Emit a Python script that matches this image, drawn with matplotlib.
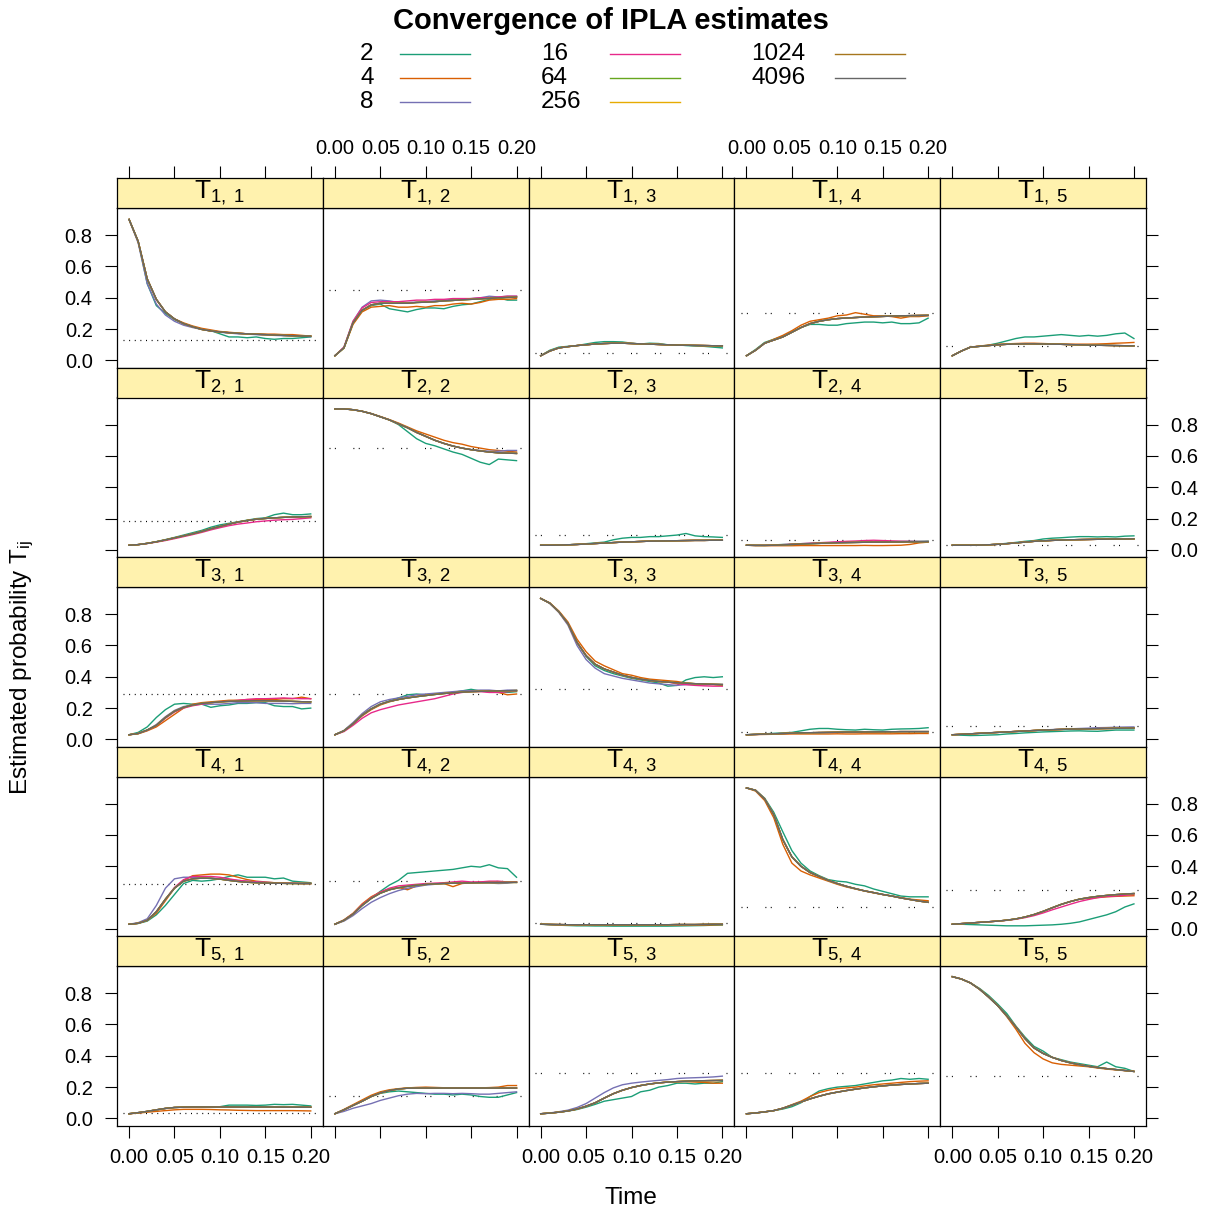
import matplotlib
matplotlib.use("Agg")
import matplotlib.pyplot as plt
from matplotlib.lines import Line2D
from matplotlib.ticker import FormatStrFormatter

plt.rcParams['font.family'] = ['Liberation Sans', 'DejaVu Sans']
plt.rcParams['mathtext.fontset'] = 'custom'
plt.rcParams['mathtext.rm'] = 'Liberation Sans'
plt.rcParams['mathtext.it'] = 'Liberation Sans:italic'

# time grid the curves were read at
times = [0.00, 0.01, 0.02, 0.03, 0.04, 0.05, 0.06, 0.07, 0.08, 0.09, 0.10,
         0.11, 0.12, 0.13, 0.14, 0.15, 0.16, 0.17, 0.18, 0.19, 0.20]

sizes = ['2', '4', '8', '16', '64', '256', '1024', '4096']
colors = ['#1B9E77', '#D95F02', '#7570B3', '#E7298A', '#66A61E', '#E6AB02', '#A6761D', '#666666']

# dotted reference value per panel
target_rows = [
    [0.13, 0.45, 0.05, 0.30, 0.09],
    [0.185, 0.648, 0.094, 0.066, 0.03],
    [0.292, 0.288, 0.324, 0.05, 0.083],
    [0.29, 0.303, 0.036, 0.137, 0.25],
    [0.035, 0.143, 0.292, 0.29, 0.269],
]

# converged curve (large sample sizes), one list per panel
main_row1 = [
    [0.90, 0.76, 0.52, 0.39, 0.31, 0.265, 0.235, 0.215, 0.198, 0.188, 0.182, 0.177, 0.173, 0.17, 0.167, 0.165, 0.162, 0.16, 0.158, 0.156, 0.155],
    [0.03, 0.08, 0.24, 0.32, 0.355, 0.365, 0.365, 0.365, 0.365, 0.37, 0.372, 0.375, 0.38, 0.383, 0.387, 0.39, 0.393, 0.396, 0.40, 0.402, 0.405],
    [0.03, 0.06, 0.08, 0.088, 0.095, 0.10, 0.105, 0.108, 0.11, 0.11, 0.108, 0.106, 0.104, 0.102, 0.10, 0.098, 0.097, 0.096, 0.095, 0.094, 0.093],
    [0.03, 0.065, 0.11, 0.13, 0.15, 0.18, 0.21, 0.235, 0.25, 0.26, 0.267, 0.271, 0.274, 0.277, 0.279, 0.281, 0.283, 0.285, 0.286, 0.287, 0.288],
    [0.03, 0.06, 0.085, 0.09, 0.095, 0.10, 0.103, 0.105, 0.106, 0.106, 0.105, 0.104, 0.103, 0.101, 0.10, 0.098, 0.097, 0.096, 0.095, 0.094, 0.093],
]
main_row2 = [
    [0.03, 0.034, 0.042, 0.052, 0.064, 0.077, 0.09, 0.103, 0.118, 0.135, 0.15, 0.165, 0.178, 0.188, 0.196, 0.201, 0.205, 0.208, 0.21, 0.212, 0.213],
    [0.90, 0.90, 0.895, 0.885, 0.87, 0.85, 0.83, 0.805, 0.78, 0.75, 0.725, 0.70, 0.68, 0.663, 0.65, 0.64, 0.632, 0.625, 0.62, 0.618, 0.616],
    [0.03, 0.03, 0.031, 0.033, 0.035, 0.038, 0.041, 0.044, 0.047, 0.05, 0.052, 0.054, 0.056, 0.057, 0.058, 0.059, 0.06, 0.061, 0.061, 0.062, 0.062],
    [0.03, 0.029, 0.029, 0.03, 0.032, 0.035, 0.038, 0.04, 0.042, 0.044, 0.046, 0.047, 0.048, 0.049, 0.05, 0.05, 0.051, 0.051, 0.052, 0.052, 0.053],
    [0.03, 0.03, 0.03, 0.031, 0.033, 0.036, 0.04, 0.045, 0.05, 0.055, 0.058, 0.061, 0.063, 0.065, 0.066, 0.067, 0.068, 0.069, 0.07, 0.07, 0.071],
]
main_row3 = [
    [0.03, 0.038, 0.06, 0.09, 0.14, 0.18, 0.205, 0.22, 0.23, 0.235, 0.24, 0.243, 0.245, 0.246, 0.247, 0.247, 0.246, 0.245, 0.243, 0.241, 0.24],
    [0.03, 0.055, 0.10, 0.155, 0.195, 0.225, 0.243, 0.255, 0.265, 0.273, 0.28, 0.287, 0.293, 0.298, 0.302, 0.305, 0.307, 0.309, 0.31, 0.311, 0.312],
    [0.90, 0.87, 0.815, 0.74, 0.62, 0.535, 0.48, 0.45, 0.43, 0.41, 0.396, 0.385, 0.377, 0.37, 0.366, 0.362, 0.359, 0.356, 0.354, 0.352, 0.35],
    [0.03, 0.032, 0.034, 0.036, 0.038, 0.04, 0.042, 0.043, 0.044, 0.045, 0.046, 0.047, 0.047, 0.048, 0.048, 0.049, 0.049, 0.05, 0.05, 0.05, 0.05],
    [0.03, 0.033, 0.036, 0.039, 0.042, 0.045, 0.048, 0.051, 0.054, 0.057, 0.06, 0.062, 0.064, 0.066, 0.067, 0.068, 0.069, 0.07, 0.071, 0.072, 0.073],
]
main_row4 = [
    [0.03, 0.036, 0.055, 0.11, 0.19, 0.26, 0.305, 0.32, 0.324, 0.323, 0.318, 0.31, 0.303, 0.298, 0.295, 0.293, 0.292, 0.291, 0.29, 0.29, 0.29],
    [0.03, 0.055, 0.095, 0.15, 0.195, 0.228, 0.25, 0.263, 0.272, 0.279, 0.284, 0.288, 0.29, 0.292, 0.293, 0.294, 0.295, 0.296, 0.296, 0.297, 0.297],
    [0.03, 0.029, 0.028, 0.027, 0.027, 0.027, 0.027, 0.027, 0.027, 0.027, 0.027, 0.027, 0.027, 0.027, 0.027, 0.028, 0.028, 0.028, 0.029, 0.03, 0.03],
    [0.90, 0.885, 0.83, 0.73, 0.57, 0.46, 0.40, 0.36, 0.335, 0.31, 0.29, 0.272, 0.257, 0.243, 0.232, 0.22, 0.21, 0.198, 0.188, 0.178, 0.17],
    [0.03, 0.034, 0.038, 0.042, 0.046, 0.05, 0.056, 0.064, 0.076, 0.092, 0.112, 0.135, 0.157, 0.175, 0.19, 0.2, 0.208, 0.214, 0.219, 0.223, 0.226],
]
main_row5 = [
    [0.03, 0.037, 0.045, 0.055, 0.064, 0.07, 0.072, 0.073, 0.073, 0.073, 0.073, 0.073, 0.073, 0.073, 0.073, 0.073, 0.073, 0.072, 0.072, 0.072, 0.072],
    [0.03, 0.055, 0.083, 0.11, 0.14, 0.163, 0.178, 0.188, 0.193, 0.194, 0.194, 0.194, 0.194, 0.194, 0.194, 0.194, 0.194, 0.194, 0.194, 0.194, 0.194],
    [0.03, 0.034, 0.04, 0.048, 0.06, 0.078, 0.1, 0.13, 0.158, 0.18, 0.197, 0.21, 0.22, 0.227, 0.232, 0.235, 0.238, 0.24, 0.241, 0.242, 0.243],
    [0.03, 0.035, 0.042, 0.05, 0.065, 0.085, 0.105, 0.125, 0.142, 0.157, 0.168, 0.178, 0.187, 0.195, 0.202, 0.208, 0.213, 0.217, 0.22, 0.223, 0.225],
    [0.905, 0.89, 0.865, 0.825, 0.775, 0.72, 0.655, 0.585, 0.51, 0.45, 0.415, 0.39, 0.37, 0.355, 0.343, 0.333, 0.325, 0.318, 0.312, 0.306, 0.30],
]

# sample size 2 (noisiest estimate)
n2_row1 = [
    [0.90, 0.76, 0.49, 0.35, 0.30, 0.26, 0.235, 0.215, 0.20, 0.19, 0.17, 0.15, 0.15, 0.145, 0.15, 0.14, 0.135, 0.14, 0.14, 0.145, 0.15],
    [0.03, 0.08, 0.24, 0.32, 0.35, 0.36, 0.33, 0.32, 0.31, 0.325, 0.335, 0.335, 0.33, 0.345, 0.355, 0.36, 0.375, 0.39, 0.40, 0.385, 0.385],
    [0.03, 0.065, 0.085, 0.09, 0.095, 0.105, 0.115, 0.12, 0.12, 0.118, 0.11, 0.105, 0.11, 0.108, 0.1, 0.1, 0.095, 0.092, 0.09, 0.085, 0.08],
    [0.03, 0.07, 0.115, 0.135, 0.155, 0.18, 0.21, 0.23, 0.23, 0.225, 0.225, 0.235, 0.24, 0.245, 0.245, 0.24, 0.245, 0.235, 0.235, 0.24, 0.27],
    [0.03, 0.06, 0.085, 0.09, 0.098, 0.11, 0.125, 0.14, 0.15, 0.15, 0.155, 0.16, 0.165, 0.16, 0.155, 0.16, 0.155, 0.16, 0.17, 0.175, 0.14],
]
n2_row2 = [
    [0.03, 0.034, 0.042, 0.053, 0.066, 0.08, 0.095, 0.11, 0.125, 0.145, 0.16, 0.17, 0.18, 0.19, 0.2, 0.205, 0.225, 0.235, 0.225, 0.225, 0.23],
    [0.90, 0.90, 0.895, 0.885, 0.87, 0.85, 0.83, 0.80, 0.755, 0.71, 0.68, 0.665, 0.645, 0.625, 0.61, 0.585, 0.56, 0.545, 0.58, 0.575, 0.57],
    [0.03, 0.03, 0.031, 0.033, 0.036, 0.04, 0.045, 0.05, 0.065, 0.075, 0.08, 0.08, 0.085, 0.085, 0.09, 0.095, 0.105, 0.09, 0.085, 0.083, 0.08],
    [0.03, 0.03, 0.03, 0.032, 0.035, 0.037, 0.04, 0.042, 0.044, 0.046, 0.048, 0.05, 0.05, 0.052, 0.053, 0.052, 0.053, 0.054, 0.055, 0.055, 0.056],
    [0.03, 0.03, 0.03, 0.031, 0.033, 0.037, 0.042, 0.048, 0.055, 0.06, 0.07, 0.075, 0.078, 0.082, 0.085, 0.085, 0.083, 0.085, 0.083, 0.088, 0.09],
]
n2_row3 = [
    [0.03, 0.045, 0.08, 0.14, 0.19, 0.225, 0.23, 0.225, 0.225, 0.205, 0.215, 0.22, 0.23, 0.23, 0.235, 0.235, 0.215, 0.21, 0.21, 0.195, 0.2],
    [0.03, 0.055, 0.10, 0.155, 0.195, 0.225, 0.245, 0.265, 0.285, 0.29, 0.285, 0.29, 0.295, 0.3, 0.31, 0.32, 0.31, 0.305, 0.305, 0.3, 0.305],
    [0.90, 0.87, 0.815, 0.74, 0.62, 0.53, 0.47, 0.44, 0.42, 0.405, 0.39, 0.38, 0.37, 0.36, 0.34, 0.345, 0.38, 0.395, 0.40, 0.395, 0.40],
    [0.03, 0.033, 0.036, 0.039, 0.042, 0.045, 0.055, 0.065, 0.07, 0.07, 0.065, 0.062, 0.06, 0.065, 0.062, 0.06, 0.065, 0.067, 0.068, 0.07, 0.075],
    [0.03, 0.027, 0.025, 0.026, 0.028, 0.03, 0.035, 0.038, 0.042, 0.045, 0.048, 0.05, 0.052, 0.054, 0.055, 0.053, 0.052, 0.056, 0.06, 0.06, 0.06],
]
n2_row4 = [
    [0.03, 0.035, 0.05, 0.09, 0.15, 0.22, 0.29, 0.31, 0.305, 0.31, 0.32, 0.335, 0.345, 0.33, 0.33, 0.33, 0.32, 0.325, 0.305, 0.3, 0.295],
    [0.03, 0.055, 0.095, 0.15, 0.195, 0.24, 0.28, 0.31, 0.355, 0.36, 0.365, 0.37, 0.375, 0.38, 0.39, 0.40, 0.395, 0.41, 0.39, 0.385, 0.33],
    [0.03, 0.027, 0.024, 0.022, 0.02, 0.02, 0.019, 0.019, 0.018, 0.018, 0.018, 0.018, 0.018, 0.018, 0.018, 0.019, 0.02, 0.021, 0.022, 0.024, 0.025],
    [0.90, 0.885, 0.835, 0.745, 0.62, 0.50, 0.42, 0.37, 0.34, 0.315, 0.305, 0.30, 0.285, 0.275, 0.255, 0.24, 0.225, 0.21, 0.205, 0.205, 0.205],
    [0.03, 0.03, 0.028, 0.026, 0.024, 0.022, 0.02, 0.02, 0.02, 0.022, 0.024, 0.026, 0.03, 0.036, 0.045, 0.06, 0.075, 0.09, 0.11, 0.14, 0.16],
]
n2_row5 = [
    [0.03, 0.037, 0.045, 0.055, 0.064, 0.07, 0.072, 0.073, 0.073, 0.074, 0.075, 0.085, 0.085, 0.085, 0.083, 0.085, 0.09, 0.088, 0.09, 0.085, 0.08],
    [0.03, 0.055, 0.083, 0.11, 0.14, 0.16, 0.17, 0.175, 0.17, 0.165, 0.16, 0.155, 0.155, 0.15, 0.155, 0.15, 0.14, 0.135, 0.135, 0.15, 0.165],
    [0.03, 0.034, 0.04, 0.047, 0.057, 0.072, 0.09, 0.11, 0.12, 0.13, 0.14, 0.17, 0.18, 0.2, 0.21, 0.225, 0.225, 0.22, 0.225, 0.225, 0.235],
    [0.03, 0.035, 0.042, 0.05, 0.06, 0.075, 0.10, 0.14, 0.175, 0.19, 0.2, 0.205, 0.21, 0.22, 0.23, 0.24, 0.245, 0.255, 0.25, 0.255, 0.25],
    [0.905, 0.89, 0.865, 0.83, 0.785, 0.73, 0.67, 0.59, 0.52, 0.46, 0.43, 0.39, 0.375, 0.36, 0.35, 0.34, 0.33, 0.36, 0.33, 0.32, 0.30],
]

# sample sizes 4, 8 and 16 where they visibly leave the converged curve
n4_curves = {
    (1, 1): [0.90, 0.76, 0.52, 0.39, 0.31, 0.265, 0.24, 0.22, 0.205, 0.195, 0.185, 0.18, 0.175, 0.17, 0.17, 0.168, 0.168, 0.165, 0.165, 0.16, 0.155],
    (1, 2): [0.03, 0.08, 0.23, 0.31, 0.34, 0.345, 0.35, 0.34, 0.34, 0.345, 0.34, 0.35, 0.35, 0.36, 0.365, 0.36, 0.37, 0.385, 0.39, 0.39, 0.395],
    (1, 4): [0.03, 0.065, 0.11, 0.135, 0.16, 0.19, 0.225, 0.25, 0.26, 0.27, 0.285, 0.29, 0.305, 0.295, 0.285, 0.285, 0.28, 0.27, 0.28, 0.28, 0.285],
    (1, 5): [0.03, 0.06, 0.085, 0.092, 0.098, 0.103, 0.106, 0.108, 0.11, 0.11, 0.108, 0.106, 0.105, 0.104, 0.104, 0.104, 0.105, 0.107, 0.11, 0.112, 0.115],
    (2, 2): [0.90, 0.90, 0.895, 0.885, 0.87, 0.852, 0.832, 0.81, 0.785, 0.76, 0.74, 0.72, 0.70, 0.685, 0.675, 0.66, 0.65, 0.64, 0.635, 0.63, 0.625],
    (2, 4): [0.03, 0.028, 0.027, 0.027, 0.027, 0.027, 0.028, 0.028, 0.028, 0.028, 0.028, 0.028, 0.028, 0.029, 0.028, 0.028, 0.029, 0.03, 0.035, 0.045, 0.05],
    (3, 1): [0.03, 0.036, 0.055, 0.08, 0.12, 0.16, 0.2, 0.225, 0.235, 0.24, 0.245, 0.25, 0.25, 0.255, 0.255, 0.255, 0.255, 0.26, 0.26, 0.27, 0.26],
    (3, 2): [0.03, 0.055, 0.10, 0.15, 0.19, 0.22, 0.24, 0.255, 0.265, 0.275, 0.285, 0.29, 0.295, 0.3, 0.305, 0.31, 0.31, 0.305, 0.30, 0.285, 0.29],
    (3, 3): [0.90, 0.872, 0.82, 0.75, 0.64, 0.56, 0.50, 0.47, 0.445, 0.42, 0.41, 0.395, 0.385, 0.38, 0.375, 0.37, 0.36, 0.355, 0.35, 0.35, 0.345],
    (3, 4): [0.03, 0.031, 0.032, 0.033, 0.034, 0.035, 0.035, 0.035, 0.035, 0.035, 0.036, 0.035, 0.035, 0.036, 0.036, 0.036, 0.036, 0.037, 0.037, 0.038, 0.038],
    (4, 1): [0.03, 0.036, 0.055, 0.1, 0.18, 0.26, 0.31, 0.34, 0.345, 0.35, 0.35, 0.345, 0.33, 0.315, 0.305, 0.3, 0.295, 0.293, 0.292, 0.29, 0.29],
    (4, 2): [0.03, 0.058, 0.1, 0.16, 0.205, 0.235, 0.255, 0.265, 0.25, 0.275, 0.285, 0.29, 0.29, 0.27, 0.29, 0.295, 0.3, 0.3, 0.3, 0.298, 0.3],
    (4, 3): [0.03, 0.028, 0.026, 0.025, 0.024, 0.024, 0.024, 0.024, 0.024, 0.024, 0.024, 0.024, 0.024, 0.024, 0.024, 0.024, 0.025, 0.025, 0.025, 0.026, 0.027],
    (4, 4): [0.90, 0.88, 0.82, 0.71, 0.54, 0.42, 0.37, 0.345, 0.325, 0.305, 0.285, 0.268, 0.255, 0.242, 0.23, 0.22, 0.21, 0.2, 0.19, 0.185, 0.18],
    (4, 5): [0.03, 0.034, 0.038, 0.042, 0.046, 0.05, 0.056, 0.064, 0.076, 0.092, 0.112, 0.135, 0.157, 0.175, 0.19, 0.195, 0.2, 0.205, 0.208, 0.21, 0.212],
    (5, 1): [0.03, 0.034, 0.04, 0.045, 0.05, 0.055, 0.058, 0.058, 0.058, 0.057, 0.055, 0.054, 0.052, 0.051, 0.05, 0.05, 0.05, 0.05, 0.05, 0.049, 0.048],
    (5, 2): [0.03, 0.058, 0.088, 0.118, 0.148, 0.17, 0.183, 0.19, 0.195, 0.198, 0.2, 0.198, 0.196, 0.195, 0.195, 0.195, 0.195, 0.197, 0.2, 0.21, 0.21],
    (5, 3): [0.03, 0.034, 0.04, 0.048, 0.06, 0.078, 0.1, 0.13, 0.158, 0.18, 0.197, 0.21, 0.22, 0.227, 0.232, 0.235, 0.235, 0.232, 0.23, 0.225, 0.225],
    (5, 4): [0.03, 0.035, 0.042, 0.05, 0.065, 0.088, 0.11, 0.14, 0.165, 0.18, 0.19, 0.195, 0.2, 0.208, 0.215, 0.22, 0.225, 0.23, 0.235, 0.238, 0.24],
    (5, 5): [0.905, 0.89, 0.865, 0.825, 0.775, 0.72, 0.65, 0.57, 0.48, 0.42, 0.38, 0.355, 0.345, 0.34, 0.335, 0.33, 0.322, 0.315, 0.31, 0.305, 0.30],
}
n8_curves = {
    (1, 1): [0.90, 0.75, 0.49, 0.36, 0.29, 0.25, 0.225, 0.21, 0.198, 0.19, 0.18, 0.175, 0.17, 0.168, 0.165, 0.162, 0.16, 0.158, 0.156, 0.155, 0.152],
    (1, 2): [0.03, 0.085, 0.25, 0.34, 0.38, 0.385, 0.38, 0.37, 0.37, 0.372, 0.375, 0.38, 0.385, 0.39, 0.39, 0.395, 0.4, 0.41, 0.405, 0.41, 0.41],
    (2, 2): [0.90, 0.90, 0.895, 0.885, 0.87, 0.85, 0.83, 0.805, 0.78, 0.75, 0.725, 0.70, 0.68, 0.663, 0.65, 0.64, 0.635, 0.63, 0.63, 0.635, 0.635],
    (3, 1): [0.03, 0.038, 0.06, 0.095, 0.145, 0.185, 0.21, 0.22, 0.225, 0.225, 0.225, 0.23, 0.235, 0.235, 0.235, 0.23, 0.23, 0.23, 0.228, 0.23, 0.23],
    (3, 2): [0.03, 0.058, 0.108, 0.165, 0.21, 0.24, 0.255, 0.265, 0.275, 0.285, 0.29, 0.295, 0.3, 0.305, 0.31, 0.31, 0.315, 0.315, 0.31, 0.315, 0.315],
    (3, 3): [0.90, 0.868, 0.81, 0.73, 0.6, 0.51, 0.455, 0.42, 0.405, 0.39, 0.38, 0.37, 0.36, 0.355, 0.35, 0.345, 0.35, 0.35, 0.35, 0.352, 0.352],
    (3, 5): [0.03, 0.033, 0.036, 0.039, 0.042, 0.045, 0.048, 0.051, 0.054, 0.057, 0.06, 0.063, 0.066, 0.068, 0.07, 0.072, 0.075, 0.076, 0.078, 0.079, 0.08],
    (4, 1): [0.03, 0.04, 0.065, 0.15, 0.26, 0.32, 0.33, 0.33, 0.328, 0.325, 0.32, 0.315, 0.31, 0.305, 0.3, 0.297, 0.295, 0.293, 0.292, 0.29, 0.29],
    (4, 2): [0.03, 0.05, 0.085, 0.13, 0.17, 0.2, 0.225, 0.245, 0.26, 0.27, 0.28, 0.285, 0.29, 0.295, 0.295, 0.295, 0.295, 0.293, 0.29, 0.292, 0.3],
    (5, 2): [0.03, 0.045, 0.065, 0.08, 0.095, 0.115, 0.13, 0.145, 0.155, 0.16, 0.158, 0.16, 0.16, 0.158, 0.16, 0.158, 0.155, 0.155, 0.16, 0.165, 0.17],
    (5, 3): [0.03, 0.035, 0.043, 0.053, 0.07, 0.095, 0.13, 0.165, 0.195, 0.215, 0.225, 0.232, 0.238, 0.243, 0.248, 0.255, 0.258, 0.26, 0.262, 0.265, 0.27],
}
n16_curves = {
    (1, 2): [0.03, 0.085, 0.25, 0.335, 0.37, 0.375, 0.375, 0.375, 0.38, 0.385, 0.385, 0.39, 0.39, 0.395, 0.395, 0.395, 0.4, 0.4, 0.405, 0.41, 0.41],
    (2, 1): [0.03, 0.034, 0.041, 0.05, 0.06, 0.072, 0.085, 0.098, 0.112, 0.128, 0.142, 0.155, 0.165, 0.172, 0.18, 0.185, 0.19, 0.193, 0.195, 0.2, 0.205],
    (2, 4): [0.03, 0.029, 0.03, 0.031, 0.034, 0.037, 0.04, 0.043, 0.046, 0.049, 0.052, 0.055, 0.057, 0.06, 0.062, 0.06, 0.058, 0.056, 0.055, 0.054, 0.054],
    (3, 1): [0.03, 0.038, 0.058, 0.088, 0.135, 0.175, 0.2, 0.215, 0.225, 0.235, 0.24, 0.245, 0.25, 0.255, 0.26, 0.26, 0.262, 0.265, 0.262, 0.26, 0.26],
    (3, 2): [0.03, 0.05, 0.09, 0.135, 0.17, 0.19, 0.205, 0.22, 0.23, 0.24, 0.25, 0.26, 0.275, 0.29, 0.3, 0.305, 0.305, 0.3, 0.3, 0.305, 0.31],
    (3, 3): [0.90, 0.87, 0.815, 0.74, 0.62, 0.535, 0.48, 0.45, 0.43, 0.41, 0.396, 0.385, 0.377, 0.37, 0.366, 0.355, 0.35, 0.345, 0.342, 0.34, 0.34],
    (4, 1): [0.03, 0.036, 0.055, 0.11, 0.19, 0.265, 0.315, 0.335, 0.335, 0.335, 0.33, 0.32, 0.31, 0.305, 0.3, 0.297, 0.295, 0.293, 0.292, 0.29, 0.29],
    (4, 2): [0.03, 0.056, 0.098, 0.155, 0.2, 0.235, 0.26, 0.275, 0.28, 0.285, 0.29, 0.292, 0.295, 0.3, 0.305, 0.3, 0.3, 0.305, 0.305, 0.3, 0.3],
    (4, 5): [0.03, 0.034, 0.038, 0.042, 0.046, 0.05, 0.055, 0.062, 0.072, 0.085, 0.102, 0.122, 0.14, 0.158, 0.175, 0.188, 0.2, 0.207, 0.21, 0.215, 0.22],
}

main_rows = [main_row1, main_row2, main_row3, main_row4, main_row5]
n2_rows = [n2_row1, n2_row2, n2_row3, n2_row4, n2_row5]
extra = {'4': n4_curves, '8': n8_curves, '16': n16_curves}

W, H = 1207, 1213
fig = plt.figure(figsize=(W / 100, H / 100), dpi=100)

col_left = [117, 322.8, 528.6, 734.4, 940.2]
pw = 205.8
strip_top = [178, 367.5, 557, 746.5, 936]
sh, ph = 30, 159.5
strip_col = '#FFF2AE'
xticks = [0.00, 0.05, 0.10, 0.15, 0.20]
yticks = [0.0, 0.2, 0.4, 0.6, 0.8]
xlim = (-0.0133, 0.2133)
ylim = (-0.045, 0.973)


def fig_rect(x, y, w, h):
    return [x / W, 1 - (y + h) / H, w / W, h / H]


tick_kw = dict(direction='out', length=8.5, width=0.8, labelsize=14.5, color='black')

for r in range(5):
    for c in range(5):
        i, j = r + 1, c + 1
        ax = fig.add_axes(fig_rect(col_left[c], strip_top[r] + sh, pw, ph))
        ax.set_xlim(*xlim)
        ax.set_ylim(*ylim)
        ax.set_xticks(xticks)
        ax.set_yticks(yticks)
        ax.xaxis.set_major_formatter(FormatStrFormatter('%.2f'))
        ax.yaxis.set_major_formatter(FormatStrFormatter('%.1f'))
        for s in ax.spines.values():
            s.set_linewidth(0.9)
        ax.tick_params(axis='both', left=False, right=False, top=False, bottom=False,
                       labelleft=False, labelright=False, labeltop=False, labelbottom=False)
        ax.tick_params(axis='y', pad=9, **tick_kw)
        ax.tick_params(axis='x', pad=8, **tick_kw)
        if c == 0:
            ax.tick_params(axis='y', left=True, labelleft=(r % 2 == 0))
        if c == 4:
            ax.tick_params(axis='y', right=True, labelright=(r % 2 == 1))
        if r == 4:
            ax.tick_params(axis='x', bottom=True, labelbottom=(c % 2 == 0))

        # dotted reference level
        if c == 0:
            ls = (0, (0.8, 3.7))
        else:
            ls = (0, (0.8, 3.5, 0.8, 14))
        ax.axhline(target_rows[r][c], xmin=0.03, xmax=0.97, color='black', lw=0.9, linestyle=ls)

        for k, n in enumerate(sizes):
            if n == '2':
                ys = n2_rows[r][c]
            elif n in extra and (i, j) in extra[n]:
                ys = extra[n][(i, j)]
            else:
                ys = main_rows[r][c]
            ax.plot(times, ys, color=colors[k], lw=1.0)

        # strip
        sax = fig.add_axes(fig_rect(col_left[c], strip_top[r], pw, sh))
        sax.set_facecolor(strip_col)
        sax.set_xlim(*xlim)
        sax.set_ylim(0, 1)
        sax.set_yticks([])
        for s in sax.spines.values():
            s.set_linewidth(0.9)
        label = r'$\mathrm{T}_{' + f'{i},' + r'\ ' + f'{j}' + '}$'
        sax.text(0.5, 0.5, label, transform=sax.transAxes, ha='center', va='center', fontsize=19)
        if r == 0:
            sax.set_xticks(xticks)
            sax.xaxis.set_major_formatter(FormatStrFormatter('%.2f'))
            sax.tick_params(axis='x', bottom=False, labelbottom=False, top=True,
                            labeltop=(c % 2 == 1), pad=6, **tick_kw)
        else:
            sax.set_xticks([])

# title and axis labels
fig.text(611 / W, 1 - 21 / H, 'Convergence of IPLA estimates', ha='center', va='center',
         fontsize=21, fontweight='bold')
fig.text(631 / W, 1 - 1198 / H, 'Time', ha='center', va='center', fontsize=17.5)
fig.text(22 / W, 1 - 667 / H, r'Estimated probability T$_{\mathrm{ij}}$', ha='center', va='center',
         rotation=90, fontsize=17.5)

# key
text_x = [360, 541, 751]
line_x = [(400, 470), (610, 680), (835, 905)]
row_y = [54, 78, 102]
for k, n in enumerate(sizes):
    cc, rr = k // 3, k % 3
    y = 1 - row_y[rr] / H
    fig.text(text_x[cc] / W, y, n, ha='left', va='center', fontsize=17.5)
    x0, x1 = line_x[cc]
    fig.add_artist(Line2D([x0 / W, x1 / W], [y, y], color=colors[k], lw=1.0,
                          transform=fig.transFigure))

fig.savefig('out.png', dpi=100)
